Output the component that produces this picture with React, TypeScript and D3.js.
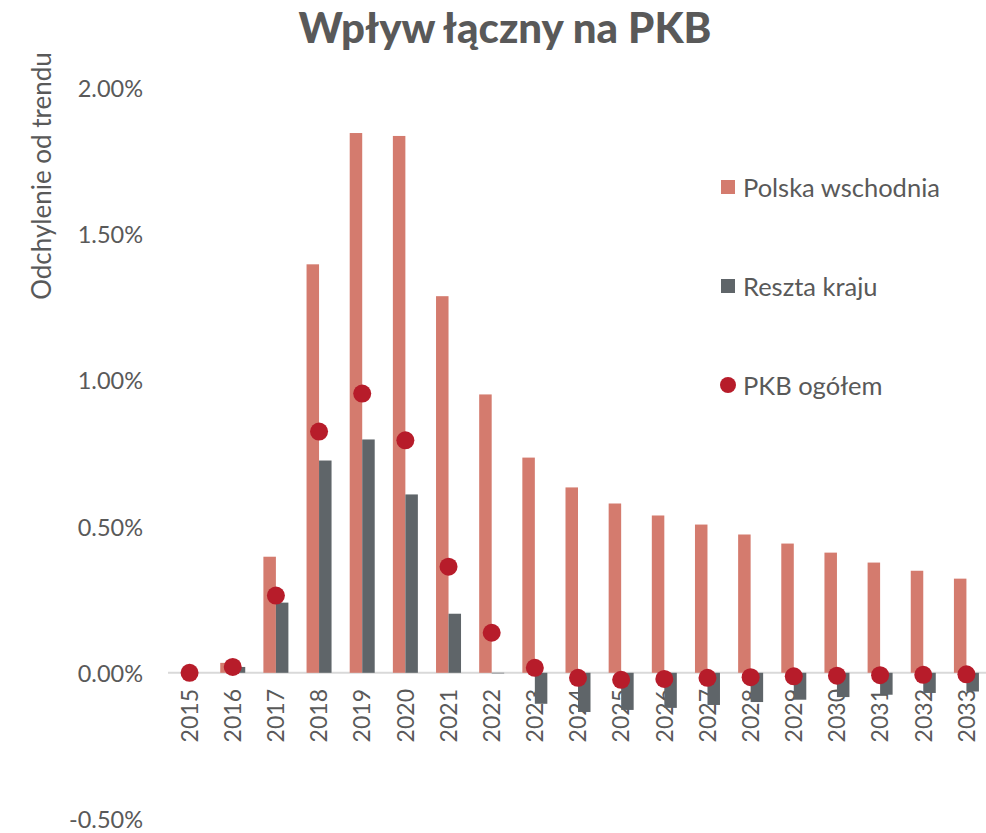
import React from "react";
import * as d3 from "d3";

const years = ["2015","2016","2017","2018","2019","2020","2021","2022","2023","2024","2025","2026","2027","2028","2029","2030","2031","2032","2033"];
const eastValues = [0, 0.034, 0.397, 1.397, 1.846, 1.836, 1.288, 0.952, 0.736, 0.634, 0.579, 0.538, 0.507, 0.473, 0.442, 0.411, 0.377, 0.349, 0.322];
const restValues = [0, 0.02, 0.24, 0.726, 0.798, 0.61, 0.202, -0.002, -0.106, -0.134, -0.127, -0.12, -0.11, -0.1, -0.092, -0.083, -0.075, -0.069, -0.064];
const totalValues = [0, 0.02, 0.264, 0.825, 0.955, 0.795, 0.363, 0.137, 0.017, -0.017, -0.024, -0.021, -0.017, -0.015, -0.012, -0.01, -0.008, -0.007, -0.005];
const yTicks = [-0.5, 0, 0.5, 1.0, 1.5, 2.0];
const legendLabels = ["Polska wschodnia", "Reszta kraju", "PKB ogółem"];

const W = 986, H = 833;
const PINK = "#D47B6E", DARK = "#5F6569", RED = "#B71C2A", TXT = "#595959";
const FONT = "Lato, 'Open Sans', sans-serif";

export default function App() {
  const x = d3.scaleBand<string>().domain(years).range([168, 988]).padding(0);
  const y = d3.scaleLinear().domain([-0.5, 2]).range([819, 88]);
  const bw = 12.5;
  const center = (yr: string) => (x(yr) as number) + x.bandwidth() / 2;
  const fmt = (t: number) => (t < 0 ? "-" : "") + Math.abs(t).toFixed(2) + "%";

  return (
    <svg width={W} height={H} style={{ position: "absolute", left: 0, top: 0, background: "#fff" }} fontFamily={FONT}>
      <text x={505} y={43} textAnchor="middle" fontSize={42} fontWeight={900} fill={TXT}>Wpływ łączny na PKB</text>
      <text transform={`translate(51,176) rotate(-90)`} textAnchor="middle" fontSize={26} fill={TXT}>Odchylenie od trendu</text>
      {yTicks.map(t => (
        <text key={t} x={143} y={y(t)} textAnchor="end" dominantBaseline="central" fontSize={23.5} fill={TXT}>{fmt(t)}</text>
      ))}
      {years.map(yr => (
        <text key={yr} transform={`translate(${center(yr)},689) rotate(-90)`} textAnchor="end" dy="0.36em" fontSize={23} fill={TXT}>{yr}</text>
      ))}
      <line x1={168} x2={988} y1={y(0)} y2={y(0)} stroke="#D9D9D9" strokeWidth={2} />
      {years.map((yr, i) => (
        <rect key={"e" + yr} x={center(yr) - bw} width={bw} y={Math.min(y(eastValues[i]), y(0))} height={Math.abs(y(eastValues[i]) - y(0))} fill={PINK} />
      ))}
      {years.map((yr, i) => (
        <rect key={"r" + yr} x={center(yr)} width={bw} y={Math.min(y(restValues[i]), y(0))} height={Math.abs(y(restValues[i]) - y(0))} fill={DARK} />
      ))}
      {years.map((yr, i) => (
        <circle key={"t" + yr} cx={center(yr)} cy={y(totalValues[i])} r={9} fill={RED} />
      ))}
      {legendLabels.map((l, i) => {
        const cy = 187 + i * 99;
        return (
          <g key={l}>
            {i < 2 ? (
              <rect x={721} y={cy - 7} width={14} height={14} fill={i === 0 ? PINK : DARK} />
            ) : (
              <circle cx={728} cy={cy} r={8} fill={RED} />
            )}
            <text x={743} y={cy} dominantBaseline="central" fontSize={25.5} fill={TXT}>{l}</text>
          </g>
        );
      })}
    </svg>
  );
}
